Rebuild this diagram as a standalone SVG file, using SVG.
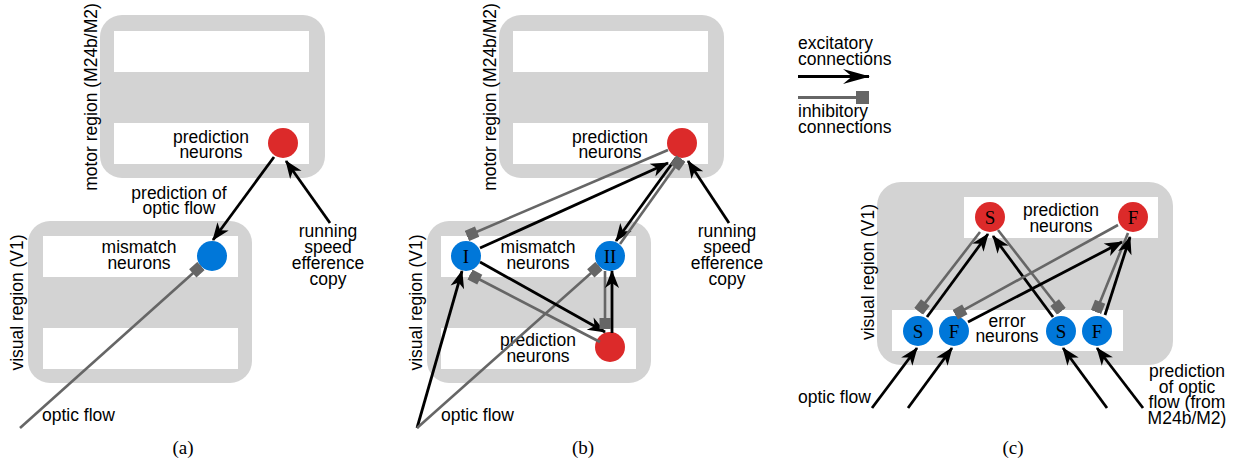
<svg xmlns="http://www.w3.org/2000/svg" width="1236" height="463" viewBox="0 0 1236 463">
<defs>
<marker id="arr" markerUnits="userSpaceOnUse" viewBox="-19 -8 20 16" refX="0" refY="0" markerWidth="20" markerHeight="16" orient="auto">
<path d="M1,0 L-17,-7 L-12,0 L-17,7 Z" fill="#000"/>
</marker>
<marker id="sq" markerUnits="userSpaceOnUse" viewBox="-12 -6 12 12" refX="0" refY="0" markerWidth="12" markerHeight="12" orient="auto">
<rect x="-11" y="-5.5" width="11" height="11" fill="#666"/>
</marker>
<marker id="arrL" markerUnits="userSpaceOnUse" viewBox="-27 -8 28 16" refX="0" refY="0" markerWidth="28" markerHeight="16" orient="auto">
<path d="M1,0 L-26,-7.5 L-17,0 L-26,7.5 Z" fill="#000"/>
</marker>
<marker id="sqL" markerUnits="userSpaceOnUse" viewBox="-14 -7 14 14" refX="0" refY="0" markerWidth="14" markerHeight="14" orient="auto">
<rect x="-13" y="-6.5" width="13" height="13" fill="#666"/>
</marker>
</defs>
<style>
.reg{fill:#d3d3d3}
.band{fill:#fff}
.t{font-family:"Liberation Sans",Arial,sans-serif;font-size:17.5px;fill:#000}
.c{text-anchor:middle}
.cap{font-family:"Liberation Serif","Times New Roman",serif;font-size:19px;text-anchor:middle;fill:#000}
.nl{font-family:"Liberation Serif","Times New Roman",serif;font-size:19px;text-anchor:middle;fill:#000}
.red{fill:#dc2a2a}
.blue{fill:#0077d9}
.ex{stroke:#000;stroke-width:2.8;fill:none;marker-end:url(#arr)}
.in{stroke:#666;stroke-width:2.6;fill:none;marker-end:url(#sq)}
</style>

<!-- Panel (a) -->
<g id="a-motor">
<rect class="reg" x="100" y="15" width="225" height="163" rx="22"/>
<rect class="band" x="114" y="31" width="195" height="41"/>
<rect class="band" x="114" y="123" width="195" height="41"/>
<text class="t c" transform="translate(97,97) rotate(-90)">motor region (M24b/M2)</text>
<text class="t c" x="211" y="142.5">prediction<tspan x="211" dy="15.5">neurons</tspan></text>
</g>
<g id="a-pred"><circle class="red" cx="283" cy="143" r="15"/></g>
<g id="a-visual">
<rect class="reg" x="28" y="221" width="224" height="162" rx="22"/>
<rect class="band" x="43" y="236" width="195" height="41"/>
<rect class="band" x="43" y="328" width="195" height="41"/>
<text class="t c" transform="translate(23,302.5) rotate(-90)">visual region (V1)</text>
<text class="t c" x="139" y="253">mismatch<tspan x="139" dy="16">neurons</tspan></text>
</g>
<g id="a-mismatch"><circle class="blue" cx="212" cy="256" r="15"/></g>
<g id="a-labels">
<text class="t c" x="179" y="199">prediction of<tspan x="179" dy="15">optic flow</tspan></text>
<text class="t c" x="328" y="237">running<tspan x="328" dy="16">speed</tspan><tspan x="328" dy="16">efference</tspan><tspan x="328" dy="16">copy</tspan></text>
<text class="t" x="42" y="421">optic flow</text>
<text class="cap" x="183" y="454">(a)</text>
</g>

<!-- Panel (b) -->
<g id="b-motor">
<rect class="reg" x="499" y="15" width="225" height="163" rx="22"/>
<rect class="band" x="513" y="31" width="195" height="41"/>
<rect class="band" x="513" y="123" width="195" height="41"/>
<text class="t c" transform="translate(496,97) rotate(-90)">motor region (M24b/M2)</text>
<text class="t c" x="610" y="142.5">prediction<tspan x="610" dy="15.5">neurons</tspan></text>
</g>
<g id="b-motorpred"><circle class="red" cx="682" cy="143" r="15"/></g>
<g id="b-visual">
<rect class="reg" x="427" y="221" width="224" height="162" rx="22"/>
<rect class="band" x="441" y="236" width="195" height="41"/>
<rect class="band" x="441" y="328" width="195" height="41"/>
<text class="t c" transform="translate(422,302.5) rotate(-90)">visual region (V1)</text>
<text class="t c" x="538" y="253">mismatch<tspan x="538" dy="16">neurons</tspan></text>
<text class="t c" x="538" y="346">prediction<tspan x="538" dy="16">neurons</tspan></text>
</g>
<g id="b-I"><circle class="blue" cx="466" cy="256" r="15"/><text class="nl" x="466" y="262.5">I</text></g>
<g id="b-II"><circle class="blue" cx="610" cy="256" r="15"/><text class="nl" x="610" y="262.5">II</text></g>
<g id="b-vpred"><circle class="red" cx="610" cy="347" r="15"/></g>
<g id="b-labels">
<text class="t c" x="727" y="237">running<tspan x="727" dy="16">speed</tspan><tspan x="727" dy="16">efference</tspan><tspan x="727" dy="16">copy</tspan></text>
<text class="t" x="441" y="421">optic flow</text>
<text class="cap" x="583" y="454">(b)</text>
</g>

<!-- Legend -->
<g id="legend">
<text class="t" x="798" y="49">excitatory<tspan x="798" dy="16">connections</tspan></text>
<line x1="798" y1="76.5" x2="869" y2="76.5" stroke="#000" stroke-width="3" marker-end="url(#arrL)"/>
<line x1="798" y1="97.5" x2="869" y2="97.5" stroke="#666" stroke-width="3" marker-end="url(#sqL)"/>
<text class="t" x="798" y="117">inhibitory<tspan x="798" dy="15.5">connections</tspan></text>
</g>

<!-- Panel (c) -->
<g id="c-visual">
<rect class="reg" x="877" y="182" width="296" height="183" rx="24"/>
<rect class="band" x="964" y="197" width="194" height="41"/>
<rect class="band" x="892" y="310" width="231" height="41"/>
<text class="t c" transform="translate(874,272) rotate(-90)">visual region (V1)</text>
<text class="t c" x="1061" y="215.5">prediction<tspan x="1061" dy="16">neurons</tspan></text>
<text class="t c" x="1007" y="326.5">error<tspan x="1007" dy="15.5">neurons</tspan></text>
</g>
<g id="c-predS"><circle class="red" cx="990" cy="217" r="15"/><text class="nl" x="990" y="223.5">S</text></g>
<g id="c-predF"><circle class="red" cx="1133" cy="217" r="15"/><text class="nl" x="1133" y="223.5">F</text></g>
<g id="c-errS1"><circle class="blue" cx="918" cy="331" r="15"/><text class="nl" x="918" y="337.5">S</text></g>
<g id="c-errF1"><circle class="blue" cx="954" cy="331" r="15"/><text class="nl" x="954" y="337.5">F</text></g>
<g id="c-errS2"><circle class="blue" cx="1061" cy="331" r="15"/><text class="nl" x="1061" y="337.5">S</text></g>
<g id="c-errF2"><circle class="blue" cx="1097" cy="331" r="15"/><text class="nl" x="1097" y="337.5">F</text></g>
<g id="c-labels">
<text class="t" x="798" y="403">optic flow</text>
<text class="t c" x="1187" y="377">prediction<tspan x="1187" dy="16">of optic</tspan><tspan x="1187" dy="15">flow (from</tspan><tspan x="1187" dy="16">M24b/M2)</tspan></text>
<text class="cap" x="1013" y="454">(c)</text>
</g>

<!-- Connectors -->
<g id="connectors">
<!-- (a) -->
<line class="ex" x1="274" y1="157" x2="213" y2="240"/>
<line class="ex" x1="330" y1="223" x2="286" y2="161"/>
<line class="in" x1="20" y1="428" x2="201" y2="266"/>
<!-- (b) -->
<line class="ex" x1="417" y1="428" x2="462" y2="271"/>
<line class="in" x1="417" y1="428" x2="599" y2="266"/>
<line class="ex" x1="480" y1="262" x2="605" y2="332"/>
<line class="in" x1="600" y1="342" x2="470" y2="274.5"/>
<line class="in" x1="605" y1="271" x2="605" y2="329"/>
<line class="ex" x1="612" y1="333" x2="612" y2="271"/>
<line class="in" x1="668" y1="150" x2="467" y2="236"/>
<line class="ex" x1="480" y1="248" x2="668" y2="163"/>
<line class="ex" x1="676" y1="158" x2="616" y2="241"/>
<line class="in" x1="620" y1="244" x2="681" y2="158.5"/>
<line class="ex" x1="729" y1="223" x2="688" y2="161"/>
<!-- (c) -->
<line class="in" x1="980" y1="232" x2="918.6" y2="311.4"/>
<line class="ex" x1="927" y1="317" x2="988" y2="234"/>
<line class="ex" x1="1053" y1="317" x2="993" y2="236"/>
<line class="in" x1="998" y1="230" x2="1061.4" y2="311.3"/>
<line class="in" x1="1118" y1="225" x2="955.2" y2="314.7"/>
<line class="ex" x1="968" y1="322" x2="1122" y2="242"/>
<line class="in" x1="1128" y1="233" x2="1096" y2="312"/>
<line class="ex" x1="1105" y1="315" x2="1130" y2="237"/>
<line class="ex" x1="872" y1="408" x2="917" y2="348"/>
<line class="ex" x1="908" y1="408" x2="952" y2="348"/>
<line class="ex" x1="1107" y1="408" x2="1063" y2="348"/>
<line class="ex" x1="1143" y1="408" x2="1097" y2="348"/>
</g>
</svg>
